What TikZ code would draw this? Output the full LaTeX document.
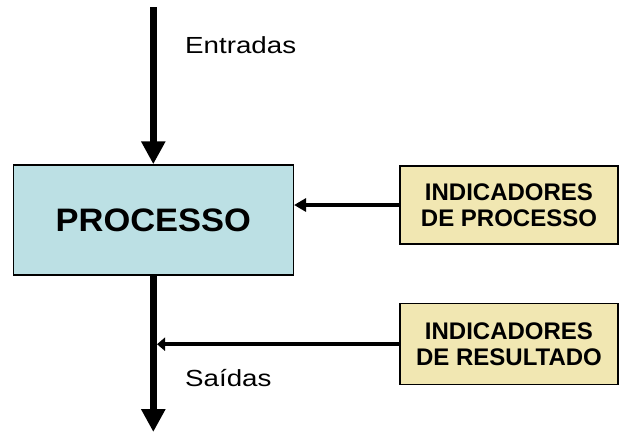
\documentclass[tikz,border=0pt]{standalone}
\usepackage{fontspec}
\setmainfont{Liberation Sans}
\usetikzlibrary{arrows.meta}
\definecolor{procfill}{RGB}{188,224,228}
\definecolor{indfill}{RGB}{241,231,178}
\begin{document}
\begin{tikzpicture}[x=1pt,y=-1pt,
  procbox/.style={draw=black,line width=1.5pt,fill=procfill,minimum width=280pt,minimum height=110pt,inner sep=0pt,font=\bfseries\fontsize{32.5}{39}\selectfont},
  indbox/.style={draw=black,line width=1.5pt,fill=indfill,minimum width=218pt,inner sep=0pt,align=center,font=\bfseries\fontsize{24}{26}\selectfont},
  flow/.style={line width=6.5pt,-{Triangle[width=23pt,length=23pt]}},
  feed/.style={line width=4.5pt,-{Triangle[width=13pt,length=12pt]}},
  feedb/.style={line width=4pt,-{Triangle[width=13pt,length=8pt]}},
  lbl/.style={inner sep=0pt,anchor=base west,font=\fontsize{23.3}{28}\selectfont}]
\useasboundingbox (0,0) rectangle (619,432);
\node[procbox] (proc) at (153.3,220) {\scalebox{1.06}[1]{PROCESSO}};
\node[indbox,minimum height=78pt] (indp) at (509,205) {INDICADORES\\DE PROCESSO};
\node[indbox,minimum height=81pt] (indr) at (509,344.2) {INDICADORES\\DE RESULTADO};
\node[lbl] (entradas) at (185,53.3) {\scalebox{1.19}[1]{Entradas}};
\node[lbl] (saidas) at (185,386.7) {\scalebox{1.19}[1]{Saídas}};
\coordinate (intop) at (153.3,7);
\coordinate (outend) at (153.3,432);
\coordinate (outtip) at (157,344.2);
\draw[flow] (intop) -- (proc.north);
\draw[flow] (proc.south) -- (outend);
\draw[feed] (indp.west) -- (proc.east |- indp.west);
\draw[feedb] (indr.west) -- (outtip);
\end{tikzpicture}
\end{document}
